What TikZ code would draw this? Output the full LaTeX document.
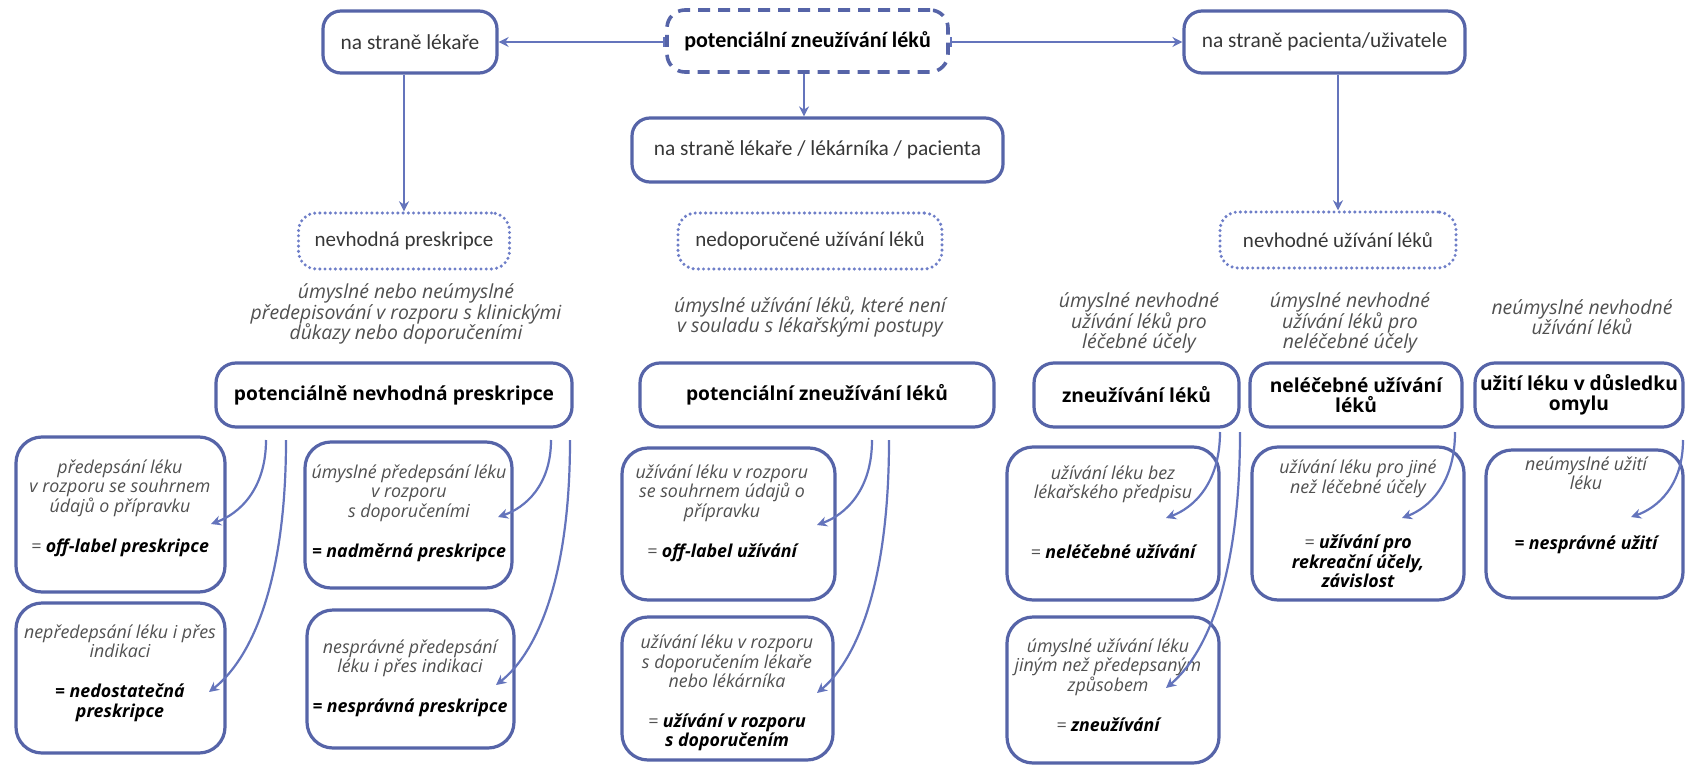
\documentclass[tikz,border=0pt]{standalone}
\usepackage{fontspec}
\setmainfont{Open Sans}
\newfontfamily\calib{Carlito}
\usetikzlibrary{arrows.meta,calc}
\definecolor{bord}{RGB}{86,100,168}
\definecolor{conn}{RGB}{100,116,188}
\definecolor{dotc}{RGB}{110,126,200}
\definecolor{txt}{RGB}{55,55,55}
\definecolor{itx}{RGB}{80,80,80}
\newcommand{\bk}{\color{black}\bfseries}
\begin{document}
\begin{tikzpicture}[x=0.5pt,y=-0.5pt,
  topbox/.style={draw=bord,line width=1.6pt,rounded corners=9pt,fill=white,text=txt,
    font=\calib\fontsize{10.7}{12}\selectfont,inner sep=0pt,align=center},
  dashbox/.style={draw=bord,fill=white,rounded corners=9pt,dash pattern=on 6pt off 4pt,line width=1.8pt,
    text=black,font=\calib\fontsize{11}{12}\selectfont\bfseries,inner sep=0pt},
  dotbox/.style={draw=dotc,line width=1.7pt,dash pattern=on 0pt off 2.6pt,line cap=round,
    rounded corners=9pt,fill=white,text=txt,font=\calib\fontsize{10.5}{12}\selectfont,inner sep=0pt,
    minimum height=28pt},
  rowbox/.style={draw=bord,line width=1.6pt,rounded corners=10pt,fill=white,text=black,
    font=\fontsize{9.6}{9.8}\selectfont\bfseries,inner sep=0pt,align=center,minimum height=32pt},
  leafbox/.style={draw=bord,line width=1.6pt,rounded corners=13pt,fill=white,inner sep=0pt},
  itext/.style={text=itx,font=\fontsize{9.7}{10.3}\selectfont\itshape,align=center,inner sep=0pt},
  ltext/.style={text=itx,font=\fontsize{8.9}{9.8}\selectfont\itshape,align=center,inner sep=0pt},
  arr/.style={draw=conn,line width=1.1pt,-{Stealth[length=5pt,width=5pt]}},
  carrow/.style={draw=conn,line width=1.1pt,-{Stealth[length=5pt,width=5pt]}}
]
\useasboundingbox[fill=white] (0,0) rectangle (1685,765);

% top row
\node[topbox,minimum width=87pt,minimum height=31pt] (lek) at (410,42) {na straně lékaře};
\node[dashbox,minimum width=140.5pt,minimum height=31pt] (root) at (807.5,41) {potenciální zneužívání léků};
\node[topbox,minimum width=140.5pt,minimum height=31pt] (pac) at (1324.5,42) {na straně pacienta/uživatele};
\node[topbox,minimum width=185.5pt,minimum height=32pt] (mid) at (817.5,150) {na straně lékaře / lékárníka / pacienta};

\draw[arr,{Bar[width=5pt]}-{Stealth[length=5pt,width=5pt]}] (root.west |- lek.east) -- (lek.east);
\draw[arr,{Bar[width=5pt]}-{Stealth[length=5pt,width=5pt]}] (root.east |- pac.west) -- (pac.west);
\draw[arr] (root.south -| 804,0) -- (mid.north -| 804,0);

% dotted boxes
\node[dotbox,minimum width=105.5pt] (np) at (404,241) {nevhodná preskripce};
\node[dotbox,minimum width=132pt] (nup) at (810,241) {nedoporučené užívání léků};
\node[dotbox,minimum width=118pt] (nu) at (1338,240) {nevhodné užívání léků};

\draw[arr] (lek.south -| np.north) -- (np.north);
\draw[arr] (pac.south -| nu.north) -- (nu.north);

% descriptions
\node[itext] (d1) at (406,314) {úmyslné nebo neúmyslné\\předepisování v rozporu s klinickými\\důkazy nebo doporučeními};
\node[itext] (d2) at (810,317) {úmyslné užívání léků, které není\\v souladu s lékařskými postupy};
\node[itext] (d3) at (1139,323) {úmyslné nevhodné\\užívání léků pro\\léčebné účely};
\node[itext] (d4) at (1350,323) {úmyslné nevhodné\\užívání léků pro\\neléčebné účely};
\node[itext] (d5) at (1582,317) {neúmyslné nevhodné\\užívání léků};

% row 3
\node[rowbox,minimum width=178pt] (pnp) at (394,395) {potenciálně nevhodná preskripce};
\node[rowbox,minimum width=177pt] (pzl) at (817,395) {potenciální zneužívání léků};
\node[rowbox,minimum width=102.5pt] (zl) at (1136.5,395) {zneužívání léků};
\node[rowbox,minimum width=106pt] (nl) at (1356,395) {neléčebné užívání\\léků};
\node[rowbox,minimum width=104pt] (ul) at (1579,395) {užití léku v důsledku\\omylu};

% row 4 boxes
\node[leafbox,minimum width=104.5pt,minimum height=77.5pt] (A) at (120.5,514.5) {};
\node[leafbox,minimum width=104.5pt,minimum height=75pt] (B) at (120.5,678) {};
\node[leafbox,minimum width=103.5pt,minimum height=73pt] (C) at (408.5,515) {};
\node[leafbox,minimum width=103.5pt,minimum height=69pt] (D) at (410.5,679) {};
\node[leafbox,minimum width=106.5pt,minimum height=76pt] (E) at (728.5,524) {};
\node[leafbox,minimum width=105.5pt,minimum height=71.5pt] (F) at (727.5,688.5) {};
\node[leafbox,minimum width=106pt,minimum height=76.5pt] (G) at (1113,523.5) {};
\node[leafbox,minimum width=106pt,minimum height=73pt] (H) at (1113,690) {};
\node[leafbox,minimum width=106pt,minimum height=76.5pt] (I) at (1358,523.5) {};
\node[leafbox,minimum width=98.5pt,minimum height=74pt] (J) at (1584.5,524) {};

% row 4 texts
\node[ltext] (At) at (120,508) {předepsání léku\\v rozporu se souhrnem\\údajů o přípravku\\[10pt]= \bk off-label preskripce};
\node[ltext] (Bt) at (120,673) {nepředepsání léku i přes\\indikaci\\[10pt]\bk = nedostatečná\\\bk preskripce};
\node[ltext] (Ct) at (409,513) {úmyslné předepsání léku\\v rozporu\\s doporučeními\\[10pt]\bk = nadměrná preskripce};
\node[ltext] (Dt) at (410,678) {nesprávné předepsání\\léku i přes indikaci\\[10pt]\bk = nesprávná preskripce};
\node[ltext] (Et) at (722,513) {užívání léku v rozporu\\se souhrnem údajů o\\přípravku\\[10pt]= \bk off-label užívání};
\node[ltext] (Ft) at (727,693) {užívání léku v rozporu\\s doporučením lékaře\\nebo lékárníka\\[10pt]= \bk užívání v rozporu\\\bk s doporučením};
\node[ltext] (Gt) at (1113,512) {užívání léku bez\\lékařského předpisu\\[20pt]= \bk neléčebné užívání};
\node[ltext] (Ht) at (1108,685) {úmyslné užívání léku\\jiným než předepsaným\\způsobem\\[10pt]= \bk zneužívání};
\node[ltext] (It) at (1358,524) {užívání léku pro jiné\\než léčebné účely\\[18pt]= \bk užívání pro\\\bk rekreační účely,\\\bk závislost};
\node[ltext] (Jt) at (1586,505) {neúmyslné užití\\léku\\[20pt]\bk = nesprávné užití};

% curved connectors
\coordinate (a1s) at (266,440); \coordinate (a1e) at (211,524);
\coordinate (a2s) at (286,440); \coordinate (a2e) at (209,692);
\coordinate (a3s) at (551,440); \coordinate (a3e) at (498,517);
\coordinate (a4s) at (570,440); \coordinate (a4e) at (496,685);
\coordinate (b1s) at (872,440); \coordinate (b1e) at (817,525);
\coordinate (b2s) at (889,440); \coordinate (b2e) at (817,693);
\coordinate (c1s) at (1220,432); \coordinate (c1e) at (1166,518);
\coordinate (c2s) at (1240,432); \coordinate (c2e) at (1166,688);
\coordinate (c3s) at (1455,432); \coordinate (c3e) at (1402,518);
\coordinate (c4s) at (1683,440); \coordinate (c4e) at (1631,517);

\draw[carrow] (a1s) .. controls (266,490) and (238.5,514) .. (a1e);
\draw[carrow] (a2s) .. controls (286,591) and (247.5,662) .. (a2e);
\draw[carrow] (a3s) .. controls (551,486) and (524.5,508) .. (a3e);
\draw[carrow] (a4s) .. controls (570,587) and (533,656) .. (a4e);
\draw[carrow] (b1s) .. controls (872,491) and (844.5,515) .. (b1e);
\draw[carrow] (b2s) .. controls (889,592) and (853,663) .. (b2e);
\draw[carrow] (c1s) .. controls (1220,484) and (1193,508) .. (c1e);
\draw[carrow] (c2s) .. controls (1240,586) and (1203,657) .. (c2e);
\draw[carrow] (c3s) .. controls (1455,484) and (1428.5,508) .. (c3e);
\draw[carrow] (c4s) .. controls (1683,486) and (1657,508) .. (c4e);
\end{tikzpicture}
\end{document}
